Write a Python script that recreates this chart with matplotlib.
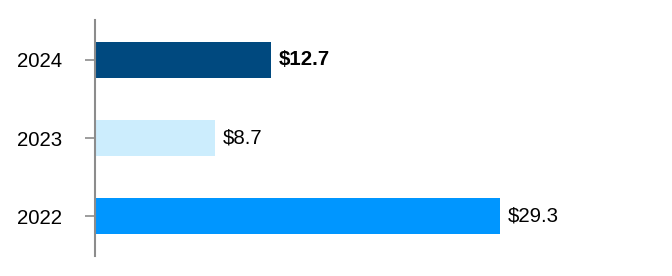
import matplotlib.pyplot as plt

# Data
years = ["2022", "2023", "2024"]
values = [29.3, 8.7, 12.7]
colors = ["#0096FF", "#CCEDFD", "#00497F"]

plt.rcParams["font.family"] = ["Liberation Sans", "DejaVu Sans"]

fig = plt.figure(figsize=(6.72, 2.76), dpi=100)
ax = fig.add_axes([95 / 672, 20 / 276, (648 - 95) / 672, (256 - 20) / 276])

pos = range(len(years))
ax.barh(pos, values, height=0.46, color=colors)

for i, v in enumerate(values):
    weight = "bold" if years[i] == "2024" else "normal"
    ax.annotate(f"${v:.1f}", xy=(v, i), xytext=(5.5, 0), textcoords="offset points",
                va="center", ha="left", fontsize=14.7, fontweight=weight, color="black")

ax.set_xlim(0, 40)
ax.set_ylim(-0.51, 2.51)
ax.set_yticks(list(pos))
ax.set_yticklabels(years, fontsize=14.7)
ax.tick_params(axis="y", length=7.5, width=1.2, color="#8c8c8c", pad=16)
ax.set_xticks([])
for side in ["top", "right", "bottom"]:
    ax.spines[side].set_visible(False)
ax.spines["left"].set_color("#8c8c8c")
ax.spines["left"].set_linewidth(1.5)

fig.savefig("out.png", dpi=100)
